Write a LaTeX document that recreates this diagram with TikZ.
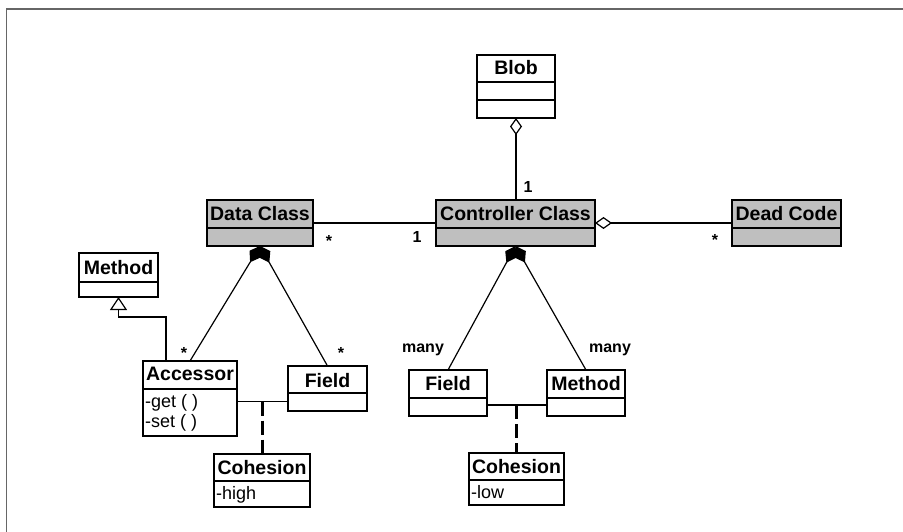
\documentclass[tikz,border=0pt]{standalone}
\usepackage{fontspec}
\setmainfont{Liberation Sans}
\usetikzlibrary{arrows.meta}
\begin{document}
\begin{tikzpicture}[x=1pt,y=-1pt,
  box/.style={draw=black, line width=1.3pt, fill=white, inner sep=0pt, outer sep=0pt, anchor=north west},
  shaded/.style={box, fill=black!25},
  title/.style={anchor=base, inner sep=0pt, font=\fontsize{19.5}{22}\selectfont\bfseries},
  attr/.style={anchor=base west, inner sep=0pt, font=\fontsize{18}{20}\selectfont},
  mult/.style={anchor=base, inner sep=0pt, font=\fontsize{16}{18}\selectfont\bfseries},
  assoc/.style={draw=black, line width=1.2pt},
  aggr/.style={assoc, {Diamond[open,length=17pt,width=12pt]}-},
  comp/.style={assoc, {Diamond[length=19pt,width=13pt]}-},
  gen/.style={assoc, -{Triangle[open,length=13pt,width=17pt]}},
  link/.style={draw=black, line width=3pt, dash pattern=on 14pt off 5pt},
  divider/.style={draw=black, line width=1.3pt},
]
\useasboundingbox (0,0) rectangle (903,532);

% frame
\draw[black!60, line width=1.2pt] (903,9) -- (6.5,9) -- (6.5,532);

% ---- class boxes ----
\node[box, minimum width=78, minimum height=63] (blob) at (477,55) {};
\draw[divider] (blob.west |- 0,82) -- (blob.east |- 0,82);
\draw[divider] (blob.west |- 0,100) -- (blob.east |- 0,100);
\node[title] (blobT) at (516,75) {Blob};

\node[shaded, minimum width=106, minimum height=46] (data) at (207,200) {};
\draw[divider] (data.west |- 0,228) -- (data.east |- 0,228);
\node[title] (dataT) at (260,221) {Data Class};

\node[shaded, minimum width=159, minimum height=46] (ctrl) at (436,200) {};
\draw[divider] (ctrl.west |- 0,228) -- (ctrl.east |- 0,228);
\node[title] (ctrlT) at (515.5,221) {Controller Class};

\node[shaded, minimum width=109, minimum height=46] (dead) at (732,200) {};
\draw[divider] (dead.west |- 0,228) -- (dead.east |- 0,228);
\node[title] (deadT) at (786.5,221) {Dead Code};

\node[box, minimum width=79, minimum height=44] (methL) at (79,253) {};
\draw[divider] (methL.west |- 0,282) -- (methL.east |- 0,282);
\node[title] (methLT) at (118.5,274.5) {Method};

\node[box, minimum width=94, minimum height=75] (acc) at (143,361) {};
\draw[divider] (acc.west |- 0,389) -- (acc.east |- 0,389);
\node[title] (accT) at (190,380.5) {Accessor};
\node[attr] (accA) at (145,407) {-get ( )};
\node[attr] (accB) at (145,427) {-set ( )};

\node[box, minimum width=79, minimum height=45] (fieldL) at (288,366) {};
\draw[divider] (fieldL.west |- 0,393) -- (fieldL.east |- 0,393);
\node[title] (fieldLT) at (327.5,387) {Field};

\node[box, minimum width=96, minimum height=53] (cohL) at (214,454) {};
\draw[divider] (cohL.west |- 0,481) -- (cohL.east |- 0,481);
\node[title] (cohLT) at (262,474) {Cohesion};
\node[attr] (cohLA) at (216,499) {-high};

\node[box, minimum width=78, minimum height=46] (fieldR) at (409,370) {};
\draw[divider] (fieldR.west |- 0,398) -- (fieldR.east |- 0,398);
\node[title] (fieldRT) at (448,390) {Field};

\node[box, minimum width=78, minimum height=46] (methR) at (547,370) {};
\draw[divider] (methR.west |- 0,398) -- (methR.east |- 0,398);
\node[title] (methRT) at (586,390) {Method};

\node[box, minimum width=95, minimum height=52] (cohR) at (469,453) {};
\draw[divider] (cohR.west |- 0,480) -- (cohR.east |- 0,480);
\node[title] (cohRT) at (516.5,473) {Cohesion};
\node[attr] (cohRA) at (471,498) {-low};

% ---- connectors ----
\draw[aggr] (blob.south) -- (blob.south |- ctrl.north);
\draw[assoc] (data.east) -- (ctrl.west);
\draw[aggr] (ctrl.east) -- (ctrl.east -| dead.west);

\draw[comp] (data.south) -- (acc.north);
\draw[comp] (data.south) -- (fieldL.north);
\draw[comp] (ctrl.south) -- (fieldR.north);
\draw[comp] (ctrl.south) -- (methR.north);

\draw[gen] ([xshift=-24pt]acc.north) |- ([yshift=-20pt]methL.south) -- (methL.south);

\coordinate (jL) at (262,401.5);
\draw[assoc] (acc.east |- jL) -- (fieldL.west |- jL);
\draw[link] (jL) -- (cohL.north);

\coordinate (jR) at (516.5,405);
\draw[assoc] (fieldR.east |- jR) -- (methR.west |- jR);
\draw[link] (jR) -- (cohR.north);

% ---- multiplicities ----
\node[mult] (mBlob) at (528,193) {1};
\node[mult] (mData) at (329,246) {*};
\node[mult] (mCtrl) at (417,243) {1};
\node[mult] (mDead) at (715,245) {*};
\node[mult] (mAcc) at (184,358) {*};
\node[mult] (mFieldL) at (341,358) {*};
\node[mult] (mFieldR) at (423,352) {many};
\node[mult] (mMethR) at (610,352) {many};
\end{tikzpicture}
\end{document}
